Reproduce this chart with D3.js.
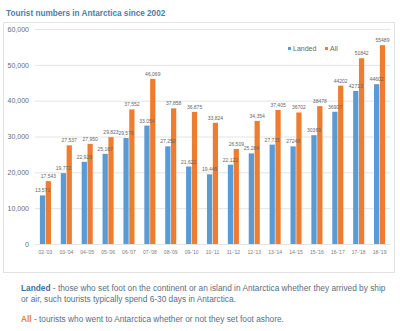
<!DOCTYPE html>
<html>
<head>
<meta charset="utf-8">
<script src="https://cdn.jsdelivr.net/npm/d3@7"></script>
<style>
  body { margin: 0; background: #fff; }
  svg { display: block; font-family: "Liberation Sans", Arial, sans-serif; }
</style>
</head>
<body>
<svg id="chart" width="400" height="331"></svg>
<script>
// seasons and tourist counts
const seasons = ["02-'03", "03-'04", "04-'05", "05-'06", "06-'07", "07-'08", "08-'09", "09-'10", "10-'11",
  "11-'12", "12-'13", "13-'14", "14-'15", "15-'16", "16-'17", "17-'18", "18-'19"];
const landed = [13571, 19772, 22929, 25167, 29576, 33054, 27250, 21622, 19445,
  22122, 25284, 27735, 27248, 30369, 36907, 42713, 44602];
const all = [17543, 27537, 27950, 29823, 37552, 46069, 37858, 36875, 33824,
  26509, 34354, 37405, 36702, 38478, 44202, 51842, 55489];
const yTicks = [0, 10000, 20000, 30000, 40000, 50000, 60000];
const seriesNames = ["Landed", "All"];
const colors = ["#5b9bd5", "#ed7d31"];

// the last seasons are labelled without thousands separator in the original
const plainFrom = 12;

const svg = d3.select('#chart');
const margin = { top: 29, right: 10, bottom: 87, left: 35 };
const width = 400 - margin.left - margin.right;
const height = 331 - margin.top - margin.bottom;

// title
svg.append('text')
  .attr('x', 6).attr('y', 16)
  .attr('fill', '#4a7db0')
  .attr('font-size', 8.2)
  .attr('font-weight', 'bold')
  .text('Tourist numbers in Antarctica since 2002');

// chart box
svg.append('rect')
  .attr('x', 3.5).attr('y', 22.5)
  .attr('width', 391).attr('height', 250)
  .attr('fill', 'none')
  .attr('stroke', '#e2e2e2');

const g = svg.append('g').attr('transform', `translate(${margin.left},${margin.top})`);

const x0 = d3.scaleBand().domain(seasons).range([0, width]).paddingInner(0.47).paddingOuter(0.235);
const x1 = d3.scaleBand().domain(seriesNames).range([0, x0.bandwidth()]).paddingInner(0.1);
const y = d3.scaleLinear().domain([0, 60000]).range([height, 0]);

// gridlines + y labels
const yAxis = g.append('g')
  .call(d3.axisLeft(y).tickValues(yTicks).tickSize(-width).tickPadding(6).tickFormat(d3.format(',')));
yAxis.select('.domain').remove();
yAxis.selectAll('line').attr('stroke', '#e4e4e4');
yAxis.selectAll('text').attr('fill', '#6b6b6b').attr('font-size', 7);

// x labels
const xAxis = g.append('g')
  .attr('transform', `translate(0,${height})`)
  .call(d3.axisBottom(x0).tickSize(0).tickPadding(6));
xAxis.select('.domain').remove();
xAxis.selectAll('text').attr('fill', '#7a7a7a').attr('font-size', 5);

const rows = seasons.map((s, i) => ({ season: s, i, values: [landed[i], all[i]] }));

const groups = g.selectAll('.grp').data(rows).join('g')
  .attr('transform', d => `translate(${x0(d.season)},0)`);

groups.selectAll('rect')
  .data(d => d.values.map((v, k) => ({ v, k, i: d.i })))
  .join('rect')
  .attr('x', d => x1(seriesNames[d.k]))
  .attr('y', d => y(d.v))
  .attr('width', x1.bandwidth())
  .attr('height', d => height - y(d.v))
  .attr('fill', d => colors[d.k]);

groups.selectAll('text.val')
  .data(d => d.values.map((v, k) => ({ v, k, i: d.i })))
  .join('text')
  .attr('class', 'val')
  .attr('x', d => x1(seriesNames[d.k]) + x1.bandwidth() / 2)
  .attr('y', d => y(d.v) - 3)
  .attr('text-anchor', 'middle')
  .attr('fill', '#666')
  .attr('font-size', 5)
  .text(d => d.i >= plainFrom ? String(d.v) : d3.format(',')(d.v));

// legend
const legend = svg.append('g').attr('transform', 'translate(288,50)');
seriesNames.forEach((name, k) => {
  const lx = k === 0 ? 0 : 37;
  legend.append('rect').attr('x', lx).attr('y', -3).attr('width', 3).attr('height', 3).attr('fill', colors[k]);
  legend.append('text').attr('x', lx + 5).attr('y', 1)
    .attr('fill', '#666').attr('font-size', 7).text(name);
});

// notes under the chart
const notes = svg.append('g').attr('font-size', 8.3).attr('fill', '#5b6e85');
const t1 = notes.append('text').attr('x', 21).attr('y', 291);
t1.append('tspan').attr('font-weight', 'bold').attr('fill', '#3d6fa3').text('Landed');
t1.append('tspan').text(' - those who set foot on the continent or an island in Antarctica whether they arrived by ship');
notes.append('text').attr('x', 21).attr('y', 302)
  .text('or air, such tourists typically spend 6-30 days in Antarctica.');
const t3 = notes.append('text').attr('x', 21).attr('y', 322);
t3.append('tspan').attr('font-weight', 'bold').attr('fill', '#ed7d31').text('All');
t3.append('tspan').text(' - tourists who went to Antarctica whether or not they set foot ashore.');
</script>
</body>
</html>
